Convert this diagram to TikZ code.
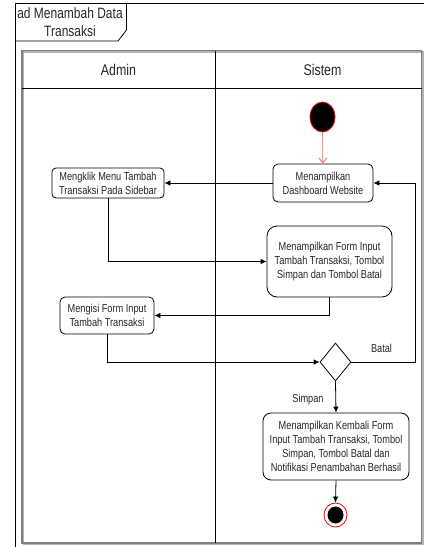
\documentclass[tikz,border=0pt]{standalone}
\usepackage{fontspec}
\setmainfont{Liberation Sans}[FakeStretch=0.8]
\usetikzlibrary{arrows.meta,shapes.geometric}
\definecolor{txt}{HTML}{262626}
\definecolor{lane}{HTML}{7F7F7F}
\definecolor{startred}{HTML}{FF0000}
\definecolor{arrred}{HTML}{FF6666}
\begin{document}
\begin{tikzpicture}[x=1pt,y=-1pt,
  act/.style={draw=black, line width=0.8pt, align=center, text=txt,
    font=\fontsize{11.5}{13.8}\selectfont, inner sep=0pt},
  arr/.style={-{Latex[length=6pt,width=5.5pt]}, line width=0.8pt},
  lbl/.style={text=txt, font=\fontsize{11.5}{13.8}\selectfont, inner sep=0pt},
  hdr/.style={text=txt, font=\fontsize{15.5}{18}\selectfont, inner sep=0pt}
  ]
\useasboundingbox (0,0) rectangle (424,547);
% outer frame
\draw[line width=0.8pt] (15,547) -- (15,3) -- (424,3);
\draw[line width=0.8pt] (15,41) -- (118,41) -- (126.5,30) -- (126.5,3);
\node[text=txt, font=\fontsize{15}{17.5}\selectfont, align=center, inner sep=0pt] (title) at (70,22) {ad Menambah Data\\Transaksi};
% swimlanes
\draw[lane!60, line width=1.2pt] (23.5,52) rectangle (423,544.5);
\draw[lane, line width=1.2pt] (22,50.5) rectangle (421.5,543);
\draw[line width=0.8pt] (22,88) -- (421.5,88);
\draw[line width=0.8pt] (215,50.5) -- (215,543);
\node[hdr] (hadmin) at (118.5,70) {Admin};
\node[hdr] (hsistem) at (322.5,70) {Sistem};
% start
\node[ellipse, draw=startred, fill=black, line width=0.8pt, minimum width=25pt, minimum height=30pt, inner sep=0pt] (start) at (322.5,117) {};
% activities
\node[act, rounded corners=5pt, minimum width=100pt, minimum height=38pt] (db) at (323,183) {Menampilkan\\Dashboard Website};
\node[act, rounded corners=4pt, minimum width=112pt, minimum height=30pt] (mk) at (108,183) {Mengklik Menu Tambah\\Transaksi Pada Sidebar};
\node[act, rounded corners=10pt, minimum width=125pt, minimum height=71pt] (form) at (329.5,261.5) {Menampilkan Form Input\\Tambah Transaksi, Tombol\\Simpan dan Tombol Batal};
\node[act, rounded corners=5pt, minimum width=94pt, minimum height=37pt] (mi) at (107,315.5) {Mengisi Form Input\\Tambah Transaksi};
\node[diamond, draw=black, line width=0.8pt, minimum width=31pt, minimum height=38pt, inner sep=0pt] (dm) at (335.5,362) {};
\node[act, rounded corners=8pt, minimum width=146pt, minimum height=67pt] (kb) at (336,446.5) {Menampilkan Kembali Form\\Input Tambah Transaksi, Tombol\\Simpan, Tombol Batal dan\\Notifikasi Penambahan Berhasil};
% end
\node[ellipse, draw=startred, line width=0.8pt, fill=white, minimum width=23pt, minimum height=24pt, inner sep=0pt] (end) at (335.5,515) {};
\node[ellipse, fill=black, minimum width=16pt, minimum height=17pt, inner sep=0pt] (endin) at (335.5,515) {};
% labels
\node[lbl] (batal) at (381.5,348) {Batal};
\node[lbl] (simpan) at (308,400) {Simpan};
% connectors
\draw[arrred, line width=0.8pt, -{Straight Barb[length=5pt,width=8pt]}] (start) -- (db);
\draw[arr] (db.west) -- (mk.east);
\draw[arr] (mk.south) |- (form.west);
\draw[arr] (form.south) |- (mi.east);
\draw[arr] (mi.south) |- (dm.west);
\coordinate (c1) at (415,362);
\draw[arr] (dm.east) -- (c1) |- (db.east);
\draw[arr] (dm.south) -- (kb.north);
\draw[arr] (kb.south) -- (end.north);
\end{tikzpicture}
\end{document}
